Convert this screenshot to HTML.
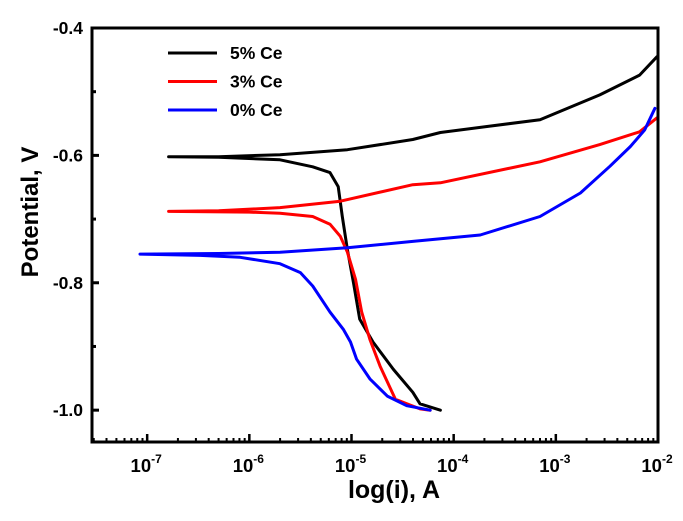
<!DOCTYPE html>
<html><head><meta charset="utf-8"><style>
body{margin:0;background:#fff}
svg text{font-family:"Liberation Sans",Arial,sans-serif;font-weight:bold;fill:#000}
</style></head><body>
<svg id="chart" width="683" height="516" viewBox="0 0 683 516" xmlns="http://www.w3.org/2000/svg">
<g id="curves"></g>
<g id="axes"></g>
<g id="legend"></g>
</svg>
<script>
const decadeTicks = [-7, -6, -5, -4, -3, -2];
const yTicks = [-0.4, -0.6, -0.8, -1.0];
const yMinorTicks = [-0.5, -0.7, -0.9];
const seriesNames = ["5% Ce", "3% Ce", "0% Ce"];
const seriesColors = ["#000000", "#ff0000", "#0000ff"];
// log10(i), potential V
const black = [[-2.01,-0.445],[-2.18,-0.474],[-2.57,-0.505],[-3.155,-0.544],[-4.13,-0.564],[-4.40,-0.575],[-5.04,-0.591],[-5.70,-0.599],[-6.3,-0.602],[-6.79,-0.602],
 [-6.3,-0.603],[-5.70,-0.607],[-5.38,-0.618],[-5.21,-0.627],[-5.13,-0.649],[-5.09,-0.696],[-5.04,-0.748],[-4.98,-0.80],[-4.92,-0.857],[-4.79,-0.893],[-4.59,-0.936],[-4.40,-0.972],[-4.33,-0.99],[-4.13,-1.0]];
const red = [[-2.01,-0.541],[-2.18,-0.563],[-2.57,-0.583],[-3.155,-0.610],[-4.13,-0.643],[-4.40,-0.646],[-5.11,-0.672],[-5.70,-0.682],[-6.3,-0.687],[-6.79,-0.688],
 [-6.0,-0.689],[-5.70,-0.691],[-5.38,-0.696],[-5.21,-0.708],[-5.11,-0.727],[-5.04,-0.752],[-4.96,-0.795],[-4.90,-0.846],[-4.82,-0.889],[-4.72,-0.931],[-4.57,-0.983],[-4.33,-0.998],[-4.23,-1.0]];
const blue = [[-2.03,-0.526],[-2.13,-0.560],[-2.27,-0.586],[-2.47,-0.617],[-2.76,-0.659],[-3.155,-0.696],[-3.74,-0.725],[-4.40,-0.735],[-5.04,-0.745],[-5.70,-0.752],[-6.3,-0.754],[-7.07,-0.755],
 [-6.48,-0.757],[-6.09,-0.760],[-5.70,-0.770],[-5.50,-0.784],[-5.38,-0.805],[-5.21,-0.846],[-5.08,-0.873],[-5.01,-0.893],[-4.95,-0.920],[-4.82,-0.951],[-4.65,-0.978],[-4.46,-0.993],[-4.23,-1.0]];
const seriesData = [black, red, blue];

const L=92,R=658,T=28,B=442;
const xMin=-7.54, xMax=-2.0, yMin=-1.05, yMax=-0.4;
const xs=v=>L+(v-xMin)/(xMax-xMin)*(R-L);
const ys=v=>T+(yMax-v)/(yMax-yMin)*(B-T);
const NS="http://www.w3.org/2000/svg";
function mk(tag,attrs,parent){const e=document.createElementNS(NS,tag);for(const k in attrs)e.setAttribute(k,attrs[k]);parent.appendChild(e);return e;}
const curves=document.getElementById('curves'), axes=document.getElementById('axes'), legend=document.getElementById('legend');

seriesData.forEach((d,i)=>{
  const p=mk('polyline',{points:d.map(q=>xs(q[0]).toFixed(1)+','+ys(q[1]).toFixed(1)).join(' '),fill:'none',stroke:seriesColors[i],'stroke-width':3,'stroke-linejoin':'round','stroke-linecap':'round'},curves);
  
  
});

const frame=mk('rect',{x:L,y:T,width:R-L,height:B-T,fill:'none',stroke:'#000','stroke-width':3},axes);



yTicks.forEach(v=>{
  const y=ys(v);
  mk('line',{x1:L,x2:L+7,y1:y,y2:y,stroke:'#000','stroke-width':3},axes);
  const t=mk('text',{x:83,y:y+6,'text-anchor':'end','font-size':17.5},axes);
  t.textContent=v.toFixed(1);
  
  
});
yMinorTicks.forEach(v=>{const y=ys(v);mk('line',{x1:L,x2:L+4,y1:y,y2:y,stroke:'#000','stroke-width':3},axes);});

for(let d=-8; d<=-3; d++){
  for(let m=2;m<=9;m++){const lv=d+Math.log10(m);if(lv>xMin&&lv<xMax){const x=xs(lv);mk('line',{x1:x,x2:x,y1:B,y2:B-4,stroke:'#000','stroke-width':2},axes);}}
}
decadeTicks.forEach(v=>{
  const x=xs(v);
  mk('line',{x1:x,x2:x,y1:B,y2:B-8,stroke:'#000','stroke-width':2.5},axes);
  const t=mk('text',{x:x-1,y:472,'text-anchor':'middle','font-size':18.5},axes);
  t.textContent='10';
  const s=mk('tspan',{dy:-9,'font-size':12},t);
  s.textContent=String(v);
  
  
});

const xt=mk('text',{x:394,y:498,'text-anchor':'middle','font-size':25},axes);
xt.textContent='log(i), A';


const yt=mk('text',{x:0,y:0,'text-anchor':'middle','font-size':24,transform:'translate(38,212) rotate(-90)'},axes);
yt.textContent='Potential, V';



seriesNames.forEach((n,i)=>{
  const y=53+i*28.5;
  const g=mk('g',{},legend);
  
  
  mk('line',{x1:168,x2:217,y1:y,y2:y,stroke:seriesColors[i],'stroke-width':3},g);
  const t=mk('text',{x:230,y:y+6,'font-size':17.5},g);
  t.textContent=n;
});
</script>
</body></html>
